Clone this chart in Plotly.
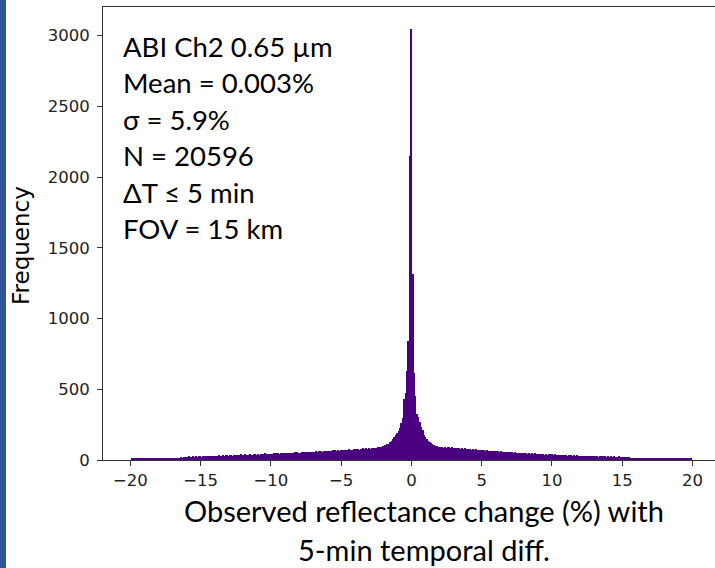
import numpy as np
import plotly.graph_objects as go

# ---------------- data ----------------
bin_width = 0.1
# bins centred on multiples of 0.1 from -19.9 to 19.9
left_tail = [  # x = -19.9 ... -2.1
    12, 15, 10, 13, 8, 11, 14, 9, 12, 10,
    13, 6, 11, 14, 12, 9, 13, 11, 15, 10,
    12, 14, 8, 13, 15, 11, 12, 16, 13, 14,
    15, 13, 17, 12, 16, 18, 14, 19, 17, 20,
    22, 25, 21, 24, 27, 23, 26, 22, 28, 25,
    24, 29, 26, 23, 30, 27, 25, 31, 28, 26,
    30, 27, 33, 29, 31, 35, 28, 32, 34, 30,
    33, 36, 31, 35, 38, 32, 37, 34, 39, 36,
    35, 40, 37, 34, 41, 38, 36, 42, 39, 37,
    41, 38, 44, 40, 43, 46, 39, 42, 45, 43,
    44, 47, 42, 46, 49, 43, 48, 45, 50, 46,
    48, 51, 46, 53, 49, 52, 55, 50, 54, 51,
    53, 56, 52, 58, 54, 57, 55, 60, 56, 58,
    57, 61, 59, 63, 58, 62, 60, 65, 61, 64,
    63, 66, 62, 68, 65, 70, 64, 69, 67, 71,
    68, 72, 70, 74, 69, 76, 73, 71, 77, 74,
    75, 78, 73, 80, 77, 82, 76, 84, 79, 83,
    81, 86, 83, 88, 85, 91, 87, 95, 92,
]
core = [  # x = -2.0 ... 2.0
    96, 104, 99, 110, 116, 124, 131, 150, 163, 176,
    190, 206, 226, 262, 296, 432, 472, 626, 842, 2152,
    3048,
    1318, 612, 454, 328, 302, 268, 234, 214, 178, 161,
    146, 133, 127, 122, 113, 106, 101, 97, 93, 95,
]
right_tail = [  # x = 2.1 ... 19.9
    90, 94, 88, 92, 86, 91, 89, 85, 90, 87,
    84, 88, 82, 86, 80, 84, 78, 83, 79, 81,
    76, 80, 74, 78, 72, 75, 71, 74, 69, 72,
    68, 71, 66, 70, 64, 67, 63, 66, 61, 64,
    60, 63, 58, 61, 57, 60, 55, 58, 54, 57,
    53, 56, 51, 54, 50, 53, 48, 52, 49, 51,
    47, 50, 45, 49, 44, 47, 43, 46, 42, 45,
    41, 44, 40, 43, 38, 42, 37, 41, 39, 40,
    36, 39, 35, 38, 34, 37, 33, 36, 32, 35,
    31, 34, 30, 33, 29, 32, 30, 33, 28, 31,
    29, 31, 27, 30, 26, 29, 27, 28, 25, 28,
    26, 28, 24, 27, 23, 26, 25, 27, 22, 25,
    24, 26, 22, 25, 21, 24, 23, 25, 20, 23,
    22, 24, 20, 21, 18, 16, 12, 10, 14, 13,
    15, 13, 16, 12, 14, 15, 11, 14, 13, 15,
    12, 14, 11, 13, 15, 12, 14, 10, 13, 12,
    14, 11, 13, 12, 10, 14, 12, 13, 11, 12,
    13, 10, 12, 11, 13, 9, 12, 10, 11,
]
counts = left_tail + core + right_tail
n_half = (len(counts) - 1) // 2
bin_centers = np.arange(-n_half, n_half + 1) * bin_width

x_ticks = [-20, -15, -10, -5, 0, 5, 10, 15, 20]
x_ticktext = [str(v).replace("-", "\u2212") for v in x_ticks]
y_ticks = [0, 500, 1000, 1500, 2000, 2500, 3000]

stats_lines = [
    "ABI Ch2 0.65 \u00b5m",
    "Mean = 0.003%",
    "\u03c3 = 5.9%",
    "N = 20596",
    "\u0394T \u2264 5 min",
    "FOV = 15 km",
]
x_title_lines = ["Observed reflectance change (%) with", "5-min temporal diff."]
y_title = "Frequency"

# ---------------- figure ----------------
W, H = 715, 568
L, R, T, B = 103, 0, 7, 108
pw, ph = W - L - R, H - T - B


def px_to_paper(px, py):
    return (px - L) / pw, (H - B - py) / ph


fig = go.Figure(
    go.Bar(
        x=bin_centers,
        y=counts,
        width=bin_width,
        marker=dict(color="#4b0082", line=dict(width=0)),
        hoverinfo="x+y",
    )
)

tick_font = dict(family="DejaVu Sans", size=16.5, color="#222222")
fig.update_layout(
    width=W,
    height=H,
    margin=dict(l=L, r=R, t=T, b=B),
    paper_bgcolor="white",
    plot_bgcolor="white",
    bargap=0,
    showlegend=False,
    xaxis=dict(
        range=[-21.95, 21.6],
        tickmode="array",
        tickvals=x_ticks,
        ticktext=x_ticktext,
        ticks="outside",
        ticklen=5,
        tickwidth=1,
        tickcolor="#333333",
        showline=True,
        linecolor="#333333",
        linewidth=1,
        mirror=True,
        showgrid=False,
        zeroline=False,
        tickfont=tick_font,
    ),
    yaxis=dict(
        range=[0, 3202],
        tickmode="array",
        tickvals=y_ticks,
        ticks="outside",
        ticklen=5,
        tickwidth=1,
        tickcolor="#333333",
        showline=True,
        linecolor="#333333",
        linewidth=1,
        showgrid=False,
        zeroline=False,
        tickfont=tick_font,
        ticklabelstandoff=4,
    ),
)

annotations = []
# stats text box
first_y, step_y = 46, 36.6
for i, line in enumerate(stats_lines):
    ax_, ay_ = px_to_paper(121, first_y + i * step_y)
    annotations.append(dict(
        x=ax_, y=ay_, xref="paper", yref="paper", xanchor="left", yanchor="middle",
        text=line, showarrow=False,
        font=dict(family="Lato", size=27.5, color="#000000"),
    ))
# x-axis title (two lines)
for line, py in zip(x_title_lines, [511, 549]):
    ax_, ay_ = px_to_paper(424, py)
    annotations.append(dict(
        x=ax_, y=ay_, xref="paper", yref="paper", xanchor="center", yanchor="middle",
        text=line, showarrow=False,
        font=dict(family="Lato", size=29, color="#000000"),
    ))
# y-axis title
ax_, ay_ = px_to_paper(21, 246)
annotations.append(dict(
    x=ax_, y=ay_, xref="paper", yref="paper", xanchor="center", yanchor="middle",
    text=y_title, textangle=-90, showarrow=False,
    font=dict(family="DejaVu Sans", size=23, color="#000000"),
))
fig.update_layout(annotations=annotations)

# blue slide edge at the far left
x0p, _ = px_to_paper(0, 0)
x1p, _ = px_to_paper(6, 0)
fig.add_shape(type="rect", xref="paper", yref="paper", x0=x0p, x1=x1p,
              y0=-B / ph, y1=1 + T / ph, fillcolor="#2f5597", line=dict(width=0),
              layer="above")

fig.write_html("out.html")
